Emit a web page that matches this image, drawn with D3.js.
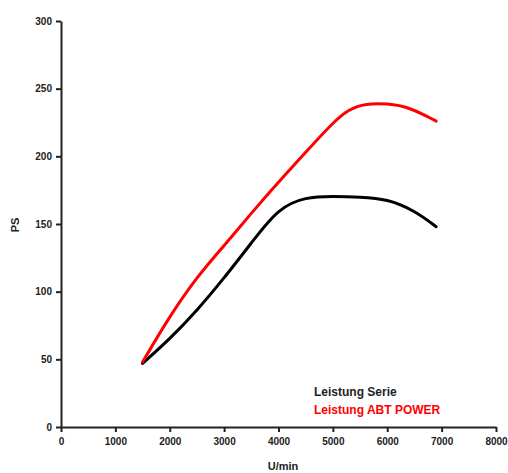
<!DOCTYPE html>
<html>
<head>
<meta charset="utf-8">
<script src="https://cdnjs.cloudflare.com/ajax/libs/d3/7.8.5/d3.min.js"></script>
<style>
  body { margin: 0; background: #fff; }
  text { font-family: "Liberation Sans", Arial, sans-serif; }
  .axis path, .axis line { stroke: #222; stroke-width: 2px; }
  .axis text { font-size: 10px; font-weight: bold; fill: #222; }
</style>
</head>
<body>
<svg id="chart" width="508" height="473"></svg>
<script>
  // Drehzahl (U/min)
  let rpm = [1500, 2000, 2500, 3000, 3500, 4000, 4500, 5000, 5500, 6000, 6500, 6900];
  // Leistung Serie (PS)
  let serie = [47, 65, 86, 110, 136, 162, 170, 170.5, 170, 168.5, 160, 148];
  // Leistung ABT POWER (PS)
  let abtRpm = [1500, 2000, 2500, 3000, 3500, 4000, 4500, 5000, 5300, 5600, 6000, 6400, 6900];
  let abt = [48, 82, 111, 134, 158, 181, 203, 225, 235, 239, 239, 236.5, 226];

  let xTicks = [0, 1000, 2000, 3000, 4000, 5000, 6000, 7000, 8000];
  let yTicks = [0, 50, 100, 150, 200, 250, 300];

  let margin = { top: 21, right: 12, bottom: 46, left: 61 };
  let width = 508 - margin.left - margin.right;
  let height = 473 - margin.top - margin.bottom;

  let svg = d3.select('#chart');
  let g = svg.append('g')
    .attr('transform', 'translate(' + margin.left + ',' + margin.top + ')');

  let x = d3.scaleLinear().domain([0, 8000]).range([0, width]);
  let y = d3.scaleLinear().domain([0, 300]).range([height, 0]);

  g.append('g')
    .attr('class', 'axis axis--x')
    .attr('transform', 'translate(0,' + height + ')')
    .call(d3.axisBottom(x).tickValues(xTicks).tickFormat(d3.format('d'))
      .tickSize(5).tickPadding(6).tickSizeOuter(0));

  g.append('g')
    .attr('class', 'axis axis--y')
    .call(d3.axisLeft(y).tickValues(yTicks).tickFormat(d3.format('d'))
      .tickSize(5).tickPadding(4).tickSizeOuter(0));

  let line = d3.line()
    .x(function(d) { return x(d[0]); })
    .y(function(d) { return y(d[1]); })
    .curve(d3.curveBasis);

  g.append('path')
    .datum(rpm.map(function(r, i) { return [r, serie[i]]; }))
    .attr('fill', 'none')
    .attr('stroke', '#000')
    .attr('stroke-width', 3)
    .attr('stroke-linecap', 'round')
    .attr('d', line);

  g.append('path')
    .datum(abtRpm.map(function(r, i) { return [r, abt[i]]; }))
    .attr('fill', 'none')
    .attr('stroke', '#ff0000')
    .attr('stroke-width', 3)
    .attr('stroke-linecap', 'round')
    .attr('d', line);

  // Legende
  svg.append('text')
    .attr('x', 314).attr('y', 396)
    .attr('font-size', 12).attr('font-weight', 'bold').attr('fill', '#222')
    .text('Leistung Serie');
  svg.append('text')
    .attr('x', 314).attr('y', 414)
    .attr('font-size', 12).attr('font-weight', 'bold').attr('fill', '#ff0000')
    .text('Leistung ABT POWER');

  // Achsentitel
  svg.append('text')
    .attr('x', 283).attr('y', 470)
    .attr('text-anchor', 'middle')
    .attr('font-size', 11).attr('font-weight', 'bold').attr('fill', '#222')
    .text('U/min');
  svg.append('text')
    .attr('transform', 'translate(19,225) rotate(-90)')
    .attr('text-anchor', 'middle')
    .attr('font-size', 11).attr('font-weight', 'bold').attr('fill', '#222')
    .text('PS');
</script>
</body>
</html>
